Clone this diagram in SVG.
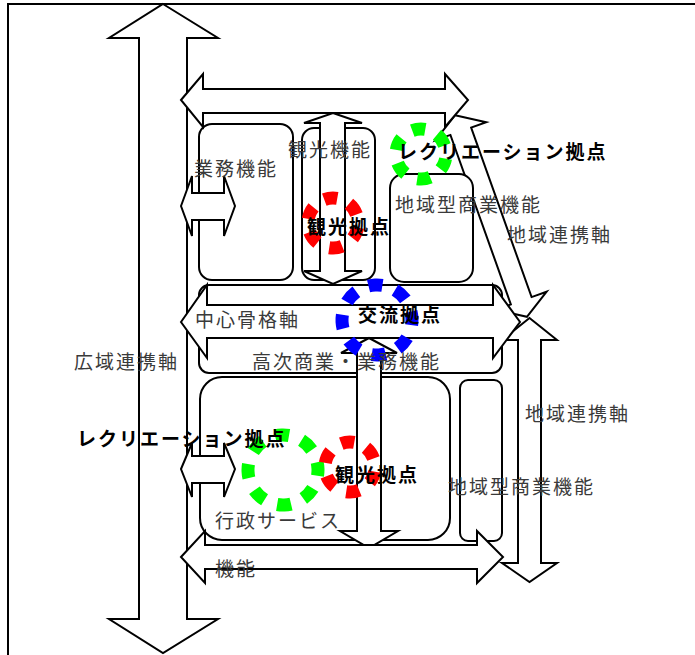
<svg xmlns="http://www.w3.org/2000/svg" width="695" height="655" viewBox="0 0 695 655">
<style>
.ar{fill:#fff;stroke:#000;stroke-width:2;stroke-linejoin:miter}
.bx{fill:#fff;stroke:#000;stroke-width:2}
.lb{font-family:"Noto Sans CJK JP","Noto Sans",sans-serif;font-size:19px;fill:#3a3a3a;letter-spacing:2px}
.bd{font-family:"Noto Sans CJK JP","Noto Sans",sans-serif;font-size:19px;font-weight:bold;fill:#000;letter-spacing:2px}
.d6{fill:none;stroke-width:13;stroke-dasharray:13 13.18;stroke-dashoffset:6.5}
.d8{fill:none;stroke-width:13;stroke-dasharray:14 13.49;stroke-dashoffset:7}
</style>
<rect width="695" height="655" fill="#fff"/>
<path d="M8,655 V4 H695" fill="none" stroke="#000" stroke-width="2"/>

<g id="connectors">
<path id="wide-axis" class="ar" d="M163,4 L218,38 L187,38 L187,619 L218,619 L163,653 L109,619 L139,619 L139,38 L109,38 Z"/>
<path id="diag-axis" class="ar" transform="translate(491,216) rotate(70.38)" d="M-107,0 L-90,-27 L-90,-11 L90,-11 L90,-27 L107,0 L90,27 L90,11 L-90,11 L-90,27 Z"/>
<path id="right-axis" class="ar" d="M529.5,318 L557,340 L541,340 L541,563 L557,563 L529.5,582 L502,563 L518,563 L518,340 L502,340 Z"/>
</g>

<g id="box-gyomu"><rect class="bx" x="199" y="124" width="94" height="156" rx="13"/></g>
<g id="box-kanko"><rect class="bx" x="302" y="128" width="73" height="152" rx="12"/></g>
<g id="box-chiiki1"><rect class="bx" x="390" y="174" width="83" height="108" rx="14"/></g>
<g id="box-koji"><rect class="bx" x="199" y="285" width="303" height="88" rx="10"/></g>
<g id="box-gyosei"><rect class="bx" x="200" y="377" width="250" height="163" rx="22"/></g>
<g id="box-chiiki2"><rect class="bx" x="460" y="380" width="42" height="161" rx="8"/></g>

<g id="connectors2">
<path id="top-axis" class="ar" d="M181,100 L203,74 L203,89 L445,89 L445,74 L468,100 L445,127 L445,113 L203,113 L203,127 Z"/>
<path id="kanko-axis1" class="ar" d="M333,113 L362,123 L345,123 L345,271 L362,271 L333,284 L304,271 L320,271 L320,123 L304,123 Z"/>
<path id="center-axis" class="ar" d="M181,322 L207,285 L207,305 L493,305 L493,285 L520,322 L493,358 L493,338 L207,338 L207,358 Z"/>
<path id="small-axis1" class="ar" d="M181,206 L192,176 L192,193 L224,193 L224,176 L235,206 L224,236 L224,220 L192,220 L192,236 Z"/>
<path id="small-axis2" class="ar" d="M181,469 L192,443 L192,456 L224,456 L224,443 L235,469 L224,497 L224,483 L192,483 L192,497 Z"/>
<path id="kanko-axis2" class="ar" d="M369,338 L397,353 L381,353 L381,531 L398,531 L369,548 L340,531 L357,531 L357,353 L341,353 Z"/>
<path id="bottom-axis" class="ar" d="M181,557 L205,531 L205,545 L477,545 L477,531 L503,557 L477,583 L477,569 L205,569 L205,583 Z"/>
</g>

<g id="hub-rec1"><circle class="d6" cx="421" cy="154" r="25" stroke="#00ff00" transform="rotate(23 421 154)"/></g>
<g id="hub-kanko1"><circle class="d6" cx="333" cy="223" r="25" stroke="#ff0000" transform="rotate(23 333 223)"/></g>
<g id="hub-koryu"><circle class="d8" cx="377" cy="320" r="35" stroke="#0000ff" transform="rotate(-3 377 320)"/></g>
<g id="hub-rec2"><circle class="d8" cx="283" cy="470" r="35" stroke="#00ff00" transform="rotate(-2 283 470)"/></g>
<g id="hub-kanko2"><circle class="d6" cx="350" cy="467" r="25" stroke="#ff0000" transform="rotate(23 350 467)"/></g>

<g id="labels">
<text class="lb" x="194" y="176">業務機能</text>
<text class="lb" x="288" y="157">観光機能</text>
<text class="lb" x="395" y="212">地域型商業機能</text>
<text class="lb" x="507" y="242">地域連携軸</text>
<text class="lb" x="195" y="327">中心骨格軸</text>
<text class="lb" x="74" y="369">広域連携軸</text>
<text class="lb" x="252" y="369">高次商業・業務機能</text>
<text class="lb" x="525" y="421">地域連携軸</text>
<text class="lb" x="448" y="494">地域型商業機能</text>
<text class="lb" x="215" y="528" letter-spacing="4">行政サービス</text>
<text class="lb" x="215" y="576">機能</text>
<text class="bd" x="398" y="159">レクリエーション拠点</text>
<text class="bd" x="307" y="234">観光拠点</text>
<text class="bd" x="358" y="322">交流拠点</text>
<text class="bd" x="335" y="482">観光拠点</text>
<text class="bd" x="77" y="446">レクリエーション拠点</text>
</g>
</svg>
